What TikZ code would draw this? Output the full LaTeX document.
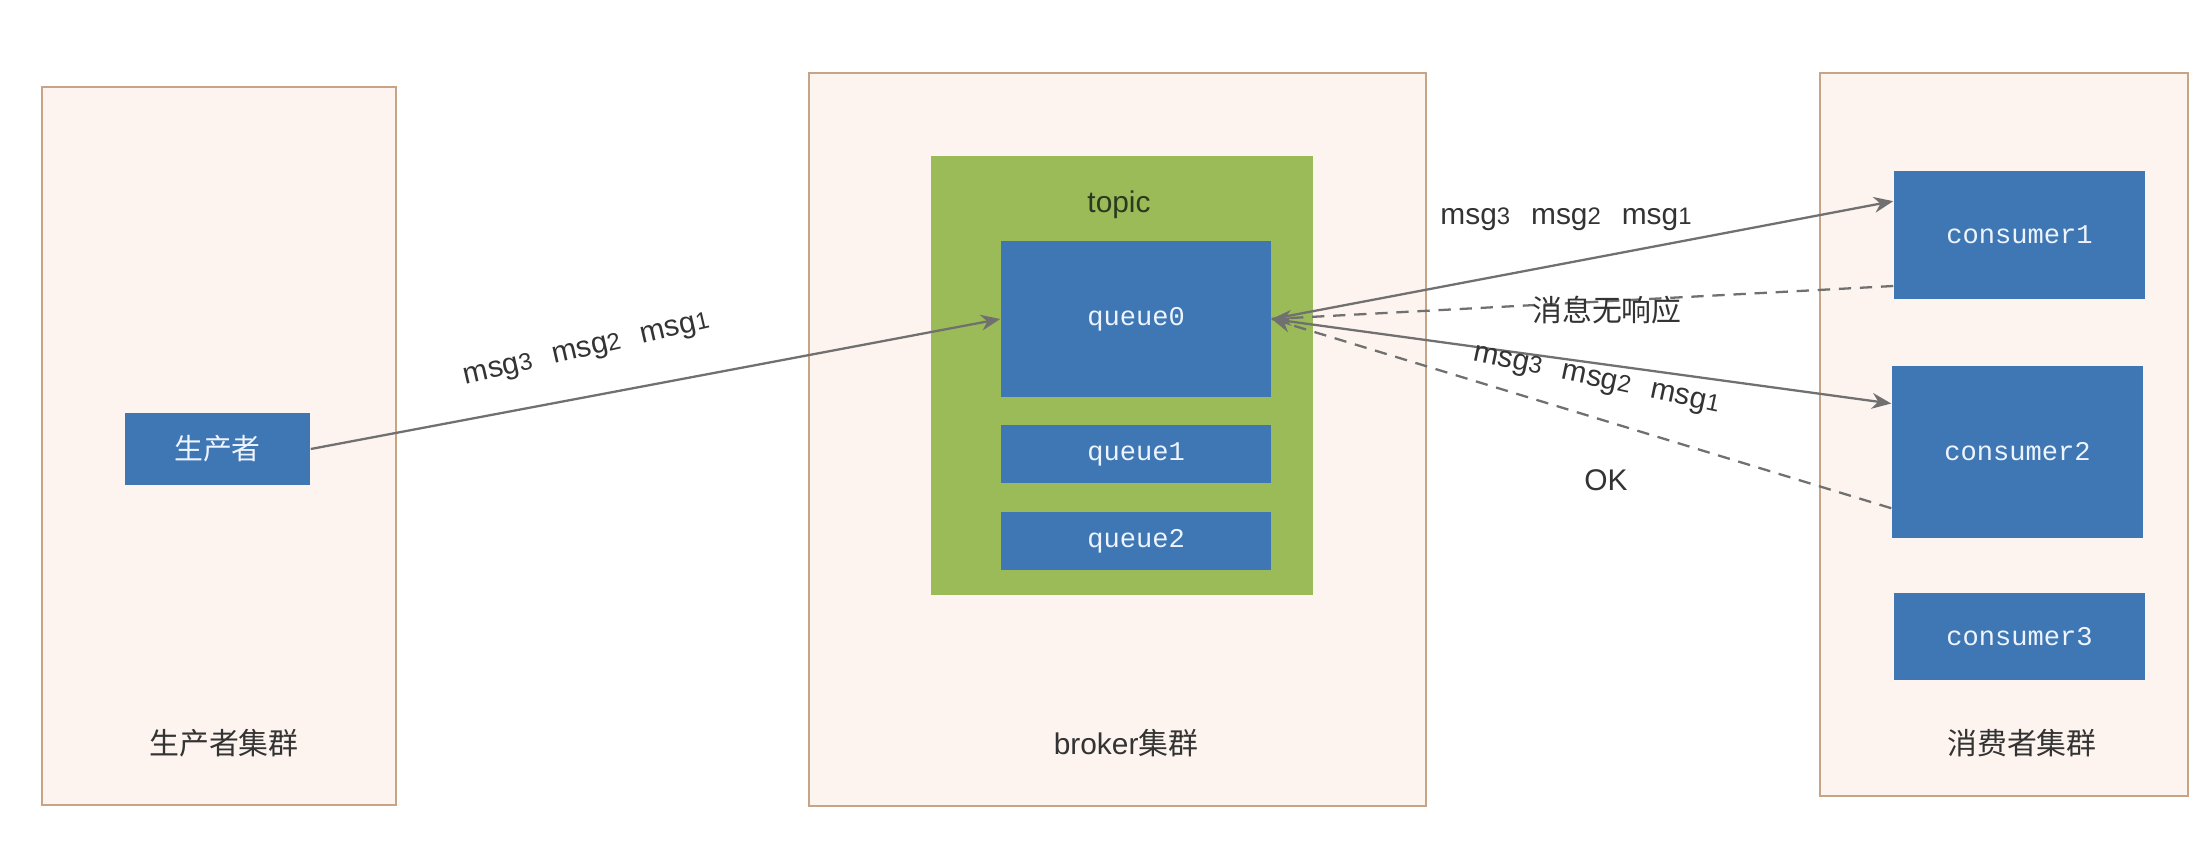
\documentclass[tikz,border=0pt]{standalone}
\usepackage{fontspec}
\setmainfont{Liberation Sans}
\newfontfamily\cjk{Noto Sans CJK SC}
\newfontfamily\qfont{Liberation Mono}
\usetikzlibrary{arrows.meta}

\definecolor{grpfill}{HTML}{FDF4EF}
\definecolor{grpdraw}{HTML}{C8A487}
\definecolor{qblue}{HTML}{3E77B3}
\definecolor{tgreen}{HTML}{9BBB59}
\definecolor{linegray}{HTML}{707070}
\definecolor{txtgray}{HTML}{333333}
\definecolor{topicgray}{HTML}{2B3A1E}
\definecolor{qtext}{HTML}{EEF4FF}

\newcommand{\dg}[1]{{\fontsize{6.8}{8}\selectfont #1}}
\newcommand{\msgrow}{msg\dg{3}\hspace{0.7em}msg\dg{2}\hspace{0.7em}msg\dg{1}}

\tikzset{
  grp/.style={draw=grpdraw, fill=grpfill, line width=0.6pt, inner sep=0pt},
  bluebox/.style={fill=qblue, text=qtext, font=\qfont\fontsize{7.7}{9}\selectfont, inner sep=0pt},
  lbl/.style={text=txtgray, font=\fontsize{8.5}{10}\selectfont, inner sep=0pt},
  msgline/.style={draw=linegray, line width=0.65pt, -{Stealth[length=5.5pt,width=4.5pt]}},
  ackline/.style={msgline, dash pattern=on 3.5pt off 2.5pt},
}

\begin{document}
\begin{tikzpicture}[x=0.01cm, y=-0.01cm]
    \useasboundingbox (0,0) rectangle (2210,858);

    % --- Cadres des trois groupes ---
    \node[grp, minimum width=3.54cm, minimum height=7.18cm] (prodgrp) at (219,446) {};
    \node[grp, minimum width=6.17cm, minimum height=7.33cm] (brokergrp) at (1117.5,439.5) {};
    \node[grp, minimum width=3.68cm, minimum height=7.23cm] (consgrp) at (2004,434.5) {};

    \node[lbl] (prodgrplbl) at (224,743) {\cjk 生产者集群};
    \node[lbl] (brokergrplbl) at (1126,743) {broker{\cjk 集群}};
    \node[lbl] (consgrplbl) at (2022,743) {\cjk 消费者集群};

    % --- Topic et ses queues ---
    \node[fill=tgreen, minimum width=3.82cm, minimum height=4.39cm] (topic) at (1122,375.5) {};
    \node[lbl, text=topicgray] (topiclbl) at (1119,205) {topic};
    \node[bluebox, minimum width=2.70cm, minimum height=1.56cm] (queue0) at (1136,319) {queue0};
    \node[bluebox, minimum width=2.70cm, minimum height=0.58cm] (queue1) at (1136,454) {queue1};
    \node[bluebox, minimum width=2.70cm, minimum height=0.58cm] (queue2) at (1136,541) {queue2};

    % --- Producteur ---
    \node[bluebox, font=\cjk\fontsize{8.2}{10}\selectfont, minimum width=1.85cm, minimum height=0.72cm] (prod) at (217.5,449) {生产者};

    % --- Consommateurs ---
    \node[bluebox, minimum width=2.51cm, minimum height=1.28cm] (consumer1) at (2019.5,235) {consumer1};
    \node[bluebox, minimum width=2.51cm, minimum height=1.72cm] (consumer2) at (2017.5,452) {consumer2};
    \node[bluebox, minimum width=2.51cm, minimum height=0.87cm] (consumer3) at (2019.5,636.5) {consumer3};

    % --- Envoi et consommation ---
    \draw[msgline] (prod.east) -- (queue0.west);
    \draw[msgline] (queue0.east) -- (consumer1.165);
    \draw[msgline] (queue0.east) -- (consumer2.159);

    % --- Reponses (pointilles) ---
    \draw[ackline] (consumer1.202) -- (queue0.east);
    \draw[ackline] (consumer2.204) -- (queue0.east);

    % --- Etiquettes des fleches ---
    \node[lbl, rotate=13] (sendlbl) at (587,351) {\msgrow};
    \node[lbl] (pull1lbl) at (1566,219) {\msgrow};
    \node[lbl] (noacklbl) at (1607,310) {\cjk 消息无响应};
    \node[lbl, rotate=-12] (pull2lbl) at (1596,381) {\msgrow};
    \node[lbl] (oklbl) at (1606,480) {OK};

\end{tikzpicture}
\end{document}
